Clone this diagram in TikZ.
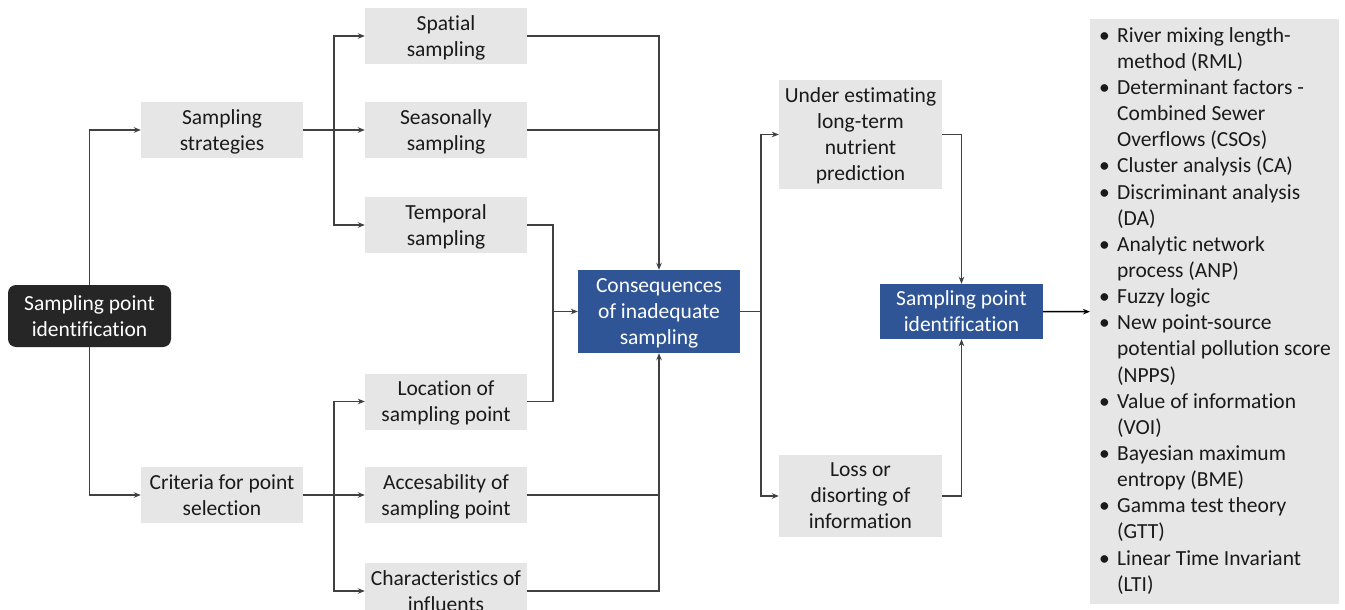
\documentclass[tikz,border=0pt]{standalone}
\usepackage{fontspec}
\setmainfont{Carlito}[Ligatures=NoCommon]
\usetikzlibrary{arrows.meta}
\definecolor{boxgray}{HTML}{E6E6E6}
\definecolor{boxblue}{HTML}{2F5597}
\definecolor{boxblack}{HTML}{262626}
\definecolor{linegray}{HTML}{404040}
\definecolor{txt}{HTML}{1A1A1A}
\newcommand\bitem[1]{\par\noindent\hangindent=18pt\hangafter=1\makebox[18pt][l]{\textbullet}#1}
\begin{document}
\begin{tikzpicture}[x=1pt,y=-1pt,
  font=\fontsize{21.5}{26}\selectfont,
  box/.style={text depth=0pt, fill=boxgray, minimum width=162pt, minimum height=56pt, inner sep=0pt, align=center, text=txt},
  bluebox/.style={text depth=0pt, fill=boxblue, minimum width=162pt, inner sep=0pt, align=center, text=white},
  blackbox/.style={text depth=0pt, fill=boxblack, rounded corners=8pt, minimum width=163pt, minimum height=62pt, inner sep=0pt, align=center, text=white},
  conn/.style={draw=linegray, line width=1.5pt},
  arr/.style={conn,-{Stealth[length=7pt,width=5.5pt]}}
]
\useasboundingbox (0,0) rectangle (1345,610);
\clip (0,0) rectangle (1345,610);

\node[blackbox] (root) at (89.5,316) {Sampling point\\identification};
\node[box] (strat) at (222,130) {Sampling\\strategies};
\node[box] (crit) at (222,495) {Criteria for point\\selection};
\node[box] (spat) at (446,36) {Spatial\\sampling};
\node[box] (seas) at (446,130) {Seasonally\\sampling};
\node[box] (temp) at (446,225) {Temporal\\sampling};
\node[box] (loc) at (446,401.5) {Location of\\sampling point};
\node[box] (acc) at (446,495) {Accesability of\\sampling point};
\node[box] (char) at (446,591) {Characteristics of\\influents};
\node[bluebox, minimum height=83pt] (cons) at (659,311.5) {Consequences\\of inadequate\\sampling};
\node[box, minimum width=163pt, minimum height=109pt, text depth=-2pt] (under) at (860.5,134.5) {Under estimating\\long-term\\nutrient\\prediction};
\node[box, minimum width=163pt, minimum height=82pt, text depth=-4pt] (loss) at (860.5,496) {Loss or\\disorting of\\information};
\node[bluebox, minimum width=163pt, minimum height=55pt, text depth=-4pt] (spi) at (961.5,311.5) {Sampling point\\identification};
\node[fill=boxgray, minimum width=249pt, minimum height=585pt, inner sep=0pt, anchor=north west] (list) at (1090,19) {};
\node[anchor=north west, inner sep=0pt, text=txt] (listtext) at (1099,27) {\parbox{240pt}{\fontsize{21.5}{26.15}\selectfont
\bitem{River mixing length-\newline method (RML)}
\bitem{Determinant factors -\newline Combined Sewer\newline Overflows (CSOs)}
\bitem{Cluster analysis (CA)}
\bitem{Discriminant analysis\newline (DA)}
\bitem{Analytic network\newline process (ANP)}
\bitem{Fuzzy logic}
\bitem{New point-source\newline potential pollution score\newline (NPPS)}
\bitem{Value of information\newline (VOI)}
\bitem{Bayesian maximum\newline entropy (BME)}
\bitem{Gamma test theory\newline (GTT)}
\bitem{Linear Time Invariant\newline (LTI)}\par}};

\coordinate (j1) at (334,130);
\coordinate (j2) at (334,495);
\coordinate (j3) at (553,311.5);
\coordinate (j4) at (761,311.5);

\draw[arr] (root.north) |- (strat.west);
\draw[arr] (root.south) |- (crit.west);
\draw[conn] (strat.east) -- (j1);
\draw[arr] (j1) |- (spat.west);
\draw[arr] (j1) -- (seas.west);
\draw[arr] (j1) |- (temp.west);
\draw[conn] (crit.east) -- (j2);
\draw[arr] (j2) |- (loc.west);
\draw[arr] (j2) -- (acc.west);
\draw[arr] (j2) |- (char.west);
\draw[arr] (spat.east) -| (cons.north);
\draw[conn] (seas.east) -- (seas.east -| cons.north);
\draw[conn] (temp.east) -| (j3);
\draw[conn] (loc.east) -| (j3);
\draw[arr] (j3) -- (cons.west);
\draw[arr] (char.east) -| (cons.south);
\draw[conn] (acc.east) -- (acc.east -| cons.south);
\draw[conn] (cons.east) -- (j4);
\draw[arr] (j4) |- (under.west);
\draw[arr] (j4) |- (loss.west);
\draw[arr] (under.east) -| (spi.north);
\draw[arr] (loss.east) -| (spi.south);
\draw[arr, draw=black] (spi.east) -- (list.west);
\end{tikzpicture}
\end{document}
